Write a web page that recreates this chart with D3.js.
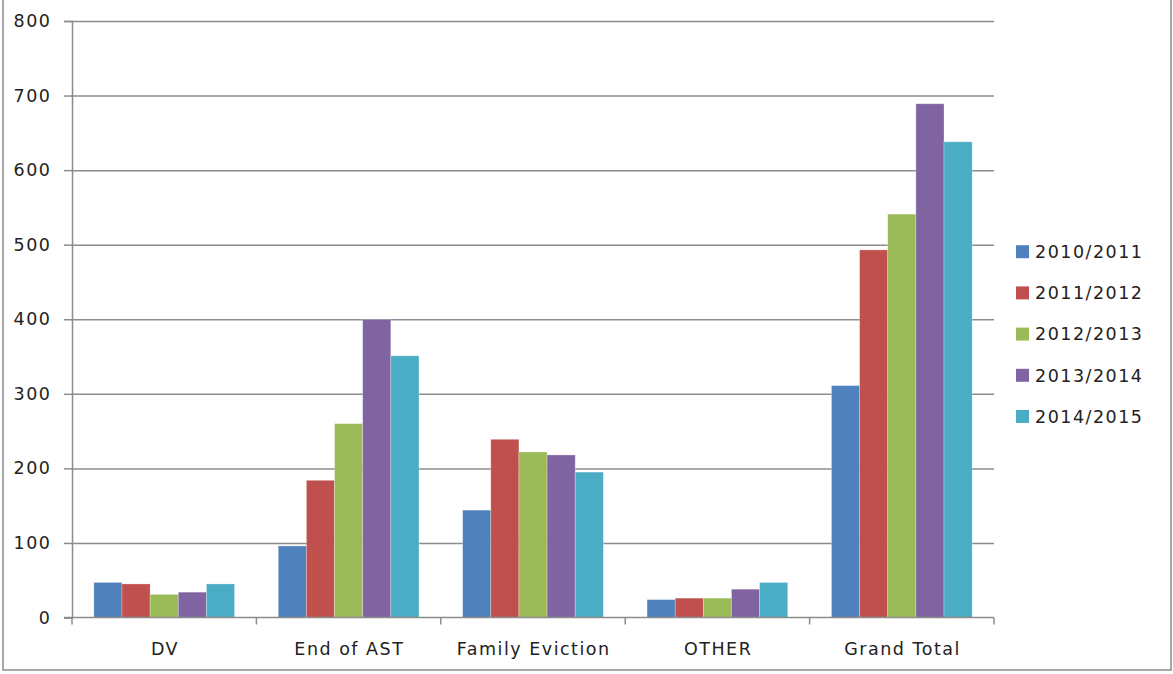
<!DOCTYPE html>
<html><head><meta charset="utf-8">
<script src="https://cdn.jsdelivr.net/npm/d3@7"></script>
<style>body{margin:0;background:#fff}svg{display:block}text{font-family:"DejaVu Sans",sans-serif;fill:#222;letter-spacing:1.5px}</style>
</head><body><svg id="c" width="1173" height="674"></svg>
<script>
const categories = ["DV","End of AST","Family Eviction","OTHER","Grand Total"];
const series = ["2010/2011","2011/2012","2012/2013","2013/2014","2014/2015"];
const v2010 = [47, 96, 144, 24, 311];
const v2011 = [45, 184, 239, 26, 493];
const v2012 = [31, 260, 222, 26, 541];
const v2013 = [34, 400, 218, 38, 689];
const v2014 = [45, 351, 195, 47, 638];
const yTicks = [0,100,200,300,400,500,600,700,800];
const colors = ["#4F81BD","#C0504D","#9BBB59","#8064A2","#4BACC6"];
const values = [v2010, v2011, v2012, v2013, v2014];

const svg = d3.select("#c");
const L = 72, R = 994, T = 21, B = 617.5;
const x0 = d3.scaleBand().domain(categories).range([L, R]).padding(0);
const bw = x0.bandwidth();
const gap = bw * 0.237;
const x1 = d3.scaleBand().domain(series).range([gap/2, bw - gap/2]).padding(0);
const y = d3.scaleLinear().domain([0, 800]).range([B, T]);

// outer border
svg.append("rect").attr("x",3).attr("y",-2).attr("width",1168).attr("height",672)
  .attr("fill","none").attr("stroke","#8a8a8a").attr("stroke-width",1.5);

// gridlines + y axis
const yAxis = d3.axisLeft(y).tickValues(yTicks).tickSize(8).tickPadding(12.5).tickFormat(d3.format("d"));
const gy = svg.append("g").attr("transform",`translate(${L},0)`).call(yAxis);
gy.select(".domain").attr("stroke","#8c8c8c").attr("stroke-width",1.5);
gy.selectAll(".tick line").attr("stroke","#8c8c8c").attr("stroke-width",1.5);
gy.selectAll(".tick text").attr("font-size",17.5).attr("fill","#222").style("font-family","'DejaVu Sans',sans-serif");
gy.selectAll(".tick").filter(d => d > 0).append("line")
  .attr("x1",0).attr("x2",R-L).attr("stroke","#8c8c8c").attr("stroke-width",1.5);

// bars
const data = [];
categories.forEach((c,i) => series.forEach((s,j) => data.push({c, s, v: values[j][i], col: colors[j]})));
svg.append("g").selectAll("rect").data(data).join("rect")
  .attr("x", d => x0(d.c) + x1(d.s))
  .attr("y", d => y(d.v))
  .attr("width", x1.bandwidth())
  .attr("height", d => y(0) - y(d.v))
  .attr("fill", d => d.col)
  .attr("stroke","rgba(255,255,255,0.35)").attr("stroke-width",0.8);

// x axis
const gx = svg.append("g").attr("transform",`translate(0,${B})`);
gx.append("line").attr("x1",L-8).attr("x2",R).attr("stroke","#8c8c8c").attr("stroke-width",1.5);
const edges = categories.map(c => x0(c)).concat([R]);
gx.selectAll(".tk").data(edges).join("line").attr("class","tk")
  .attr("x1",d=>d).attr("x2",d=>d).attr("y1",0).attr("y2",7)
  .attr("stroke","#8c8c8c").attr("stroke-width",1.5);
gx.selectAll(".lb").data(categories).join("text").attr("class","lb")
  .attr("x", d => x0(d) + bw/2 + 0.75).attr("y", 37)
  .attr("text-anchor","middle").attr("font-size",17.5).text(d => d);

// legend
const lg = svg.append("g");
series.forEach((s,j) => {
  const cy = 251.7 + j*41.2;
  lg.append("rect").attr("x",1016).attr("y",cy-6.5).attr("width",13).attr("height",13).attr("fill",colors[j]);
  lg.append("text").attr("x",1035).attr("y",cy).attr("dy","0.36em").attr("font-size",17.5).text(s);
});
</script></body></html>
